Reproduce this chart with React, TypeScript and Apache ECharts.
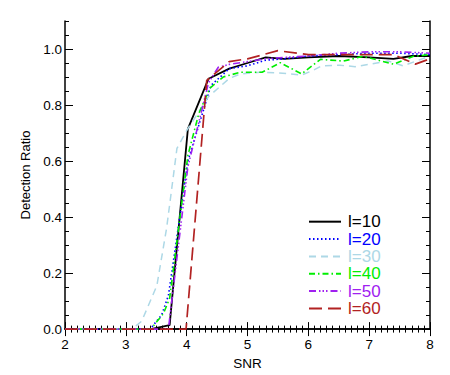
import React, { useEffect, useRef } from "react";
import * as echarts from "echarts";

// ---- data ----
const seriesNames = ["l=10", "l=20", "l=30", "l=40", "l=50", "l=60"];
const seriesColors = ["#000000", "#0000ff", "#add8e6", "#00ee00", "#a020f0", "#b22222"];

const x10 = [2.0, 3.41, 3.72, 4.02, 4.36, 4.7, 5.0, 5.3, 5.6, 6.0, 6.5, 7.0, 7.4, 7.7, 8.0];
const y10 = [0.0, 0.0, 0.014, 0.715, 0.894, 0.93, 0.95, 0.97, 0.965, 0.97, 0.975, 0.97, 0.965, 0.975, 0.975];

const x20 = [2.0, 3.4, 3.59, 3.7, 4.02, 4.4, 4.7, 5.0, 5.3, 5.6, 6.0, 6.5, 7.0, 7.5, 8.0];
const y20 = [0.0, 0.0, 0.051, 0.12, 0.6, 0.87, 0.93, 0.94, 0.96, 0.965, 0.975, 0.98, 0.985, 0.985, 0.98];

const x30 = [2.0, 3.1, 3.26, 3.51, 3.67, 3.84, 4.0, 4.36, 4.7, 4.88, 5.2, 5.5, 5.89, 6.06, 6.22, 6.52, 6.77, 7.31, 7.56, 8.0];
const y30 = [0.0, 0.0, 0.028, 0.155, 0.36, 0.645, 0.709, 0.83, 0.895, 0.911, 0.917, 0.915, 0.907, 0.922, 0.94, 0.942, 0.937, 0.957, 0.94, 0.975];

const x40 = [2.0, 3.41, 3.62, 3.72, 4.02, 4.2, 4.38, 4.6, 4.88, 5.24, 5.54, 5.89, 6.2, 6.58, 6.9, 7.4, 7.73, 8.0];
const y40 = [0.0, 0.0, 0.056, 0.11, 0.62, 0.77, 0.86, 0.9, 0.917, 0.917, 0.951, 0.911, 0.963, 0.957, 0.974, 0.946, 0.974, 0.98];

const x50 = [2.0, 3.7, 4.02, 4.36, 4.52, 4.7, 5.0, 5.3, 5.6, 6.0, 6.5, 7.0, 7.5, 8.0];
const y50 = [0.0, 0.0, 0.58, 0.88, 0.935, 0.945, 0.955, 0.965, 0.97, 0.975, 0.985, 0.99, 0.99, 0.985];

const x60 = [2.0, 3.99, 4.33, 4.7, 5.0, 5.5, 6.0, 6.5, 7.0, 7.4, 7.76, 8.0];
const y60 = [0.0, 0.0, 0.888, 0.955, 0.965, 0.994, 0.98, 0.98, 0.98, 0.98, 0.946, 0.965];

const xs = [x10, x20, x30, x40, x50, x60];
const ys = [y10, y20, y30, y40, y50, y60];
const dashes: (string | number[])[] = [
  "solid",
  [1.5, 2.5],
  [7, 5],
  [6, 3, 1.5, 3],
  [7, 3, 1.5, 2, 1.5, 2, 1.5, 3],
  [13, 6],
];
const widths = [1.8, 1.6, 1.5, 1.6, 1.6, 1.7];

const xTicks = [2, 3, 4, 5, 6, 7, 8];
const yTicks = [0.0, 0.2, 0.4, 0.6, 0.8, 1.0];

const FONT = "Liberation Sans, Arial, Helvetica, sans-serif";

export default function App() {
  const ref = useRef<HTMLDivElement>(null);
  useEffect(() => {
    if (!ref.current) return;
    const chart = echarts.init(ref.current, undefined, { renderer: "svg" });
    const xMin = xTicks[0];
    const xMax = xTicks[xTicks.length - 1];
    const axisLine = { show: true, lineStyle: { color: "#000", width: 1.5 } };
    const mk = (
      pos: string,
      interval: number,
      min: number,
      max: number,
      len: number,
      labels: boolean,
      line: boolean,
      extra: any = {}
    ) => ({
      type: "value",
      position: pos,
      min,
      max,
      interval,
      axisLine: line ? axisLine : { show: false },
      axisTick: { show: true, inside: true, length: len, lineStyle: { color: "#000", width: 1 } },
      axisLabel: { show: labels },
      splitLine: { show: false },
      ...extra,
    });
    const option: any = {
      animation: false,
      backgroundColor: "#fff",
      grid: { left: 65, right: 20, top: 21, bottom: 37 },
      xAxis: [
        mk("bottom", 1, xMin, xMax, 7, true, true, {
          name: "SNR",
          nameLocation: "middle",
          nameGap: 26,
          nameTextStyle: { fontFamily: FONT, fontSize: 13.5, color: "#000" },
          axisLabel: { show: true, margin: 8, fontFamily: FONT, fontSize: 13.5, color: "#000", formatter: (v: number) => String(v) },
        }),
        mk("top", 1, xMin, xMax, 7, false, true),
        mk("bottom", 0.1, xMin, xMax, 3.5, false, false),
        mk("top", 0.1, xMin, xMax, 3.5, false, false),
      ],
      yAxis: [
        mk("left", 0.2, 0, 1.1, 8, true, true, {
          name: "Detection Ratio",
          nameLocation: "middle",
          nameGap: 27,
          nameTextStyle: { fontFamily: FONT, fontSize: 13, color: "#000" },
          axisLabel: {
            show: true,
            margin: 3,
            fontFamily: FONT,
            fontSize: 13.5,
            color: "#000",
            showMaxLabel: false,
            formatter: (v: number) => (yTicks.some((t) => Math.abs(t - v) < 1e-6) ? v.toFixed(1) : ""),
          },
        }),
        mk("right", 0.2, 0, 1.1, 8, false, true),
        mk("left", 0.05, 0, 1.1, 4, false, false),
        mk("right", 0.05, 0, 1.1, 4, false, false),
      ],
      legend: {
        orient: "vertical",
        left: 308,
        top: 213,
        padding: 0,
        itemWidth: 32,
        itemHeight: 8,
        itemGap: 0,
        selectedMode: false,
        itemStyle: { opacity: 0, borderWidth: 0 },
        textStyle: { fontFamily: FONT, fontSize: 17, lineHeight: 17.35, padding: [0, 0, 0, 2] },
        data: seriesNames.map((n, i) => ({ name: n, textStyle: { color: seriesColors[i] } })),
      },
      series: seriesNames.map((n, i) => ({
        name: n,
        type: "line",
        xAxisIndex: 0,
        yAxisIndex: 0,
        symbol: "none",
        showSymbol: false,
        clip: true,
        z: 2 + i,
        color: seriesColors[i],
        lineStyle: { color: seriesColors[i], width: widths[i], type: dashes[i] },
        data: xs[i].map((x, j) => [x, ys[i][j]]),
      })),
    };
    chart.setOption(option);
    return () => chart.dispose();
  }, []);
  return (
    <div
      ref={ref}
      style={{ position: "fixed", left: 0, top: 0, width: 450, height: 375 }}
    />
  );
}
